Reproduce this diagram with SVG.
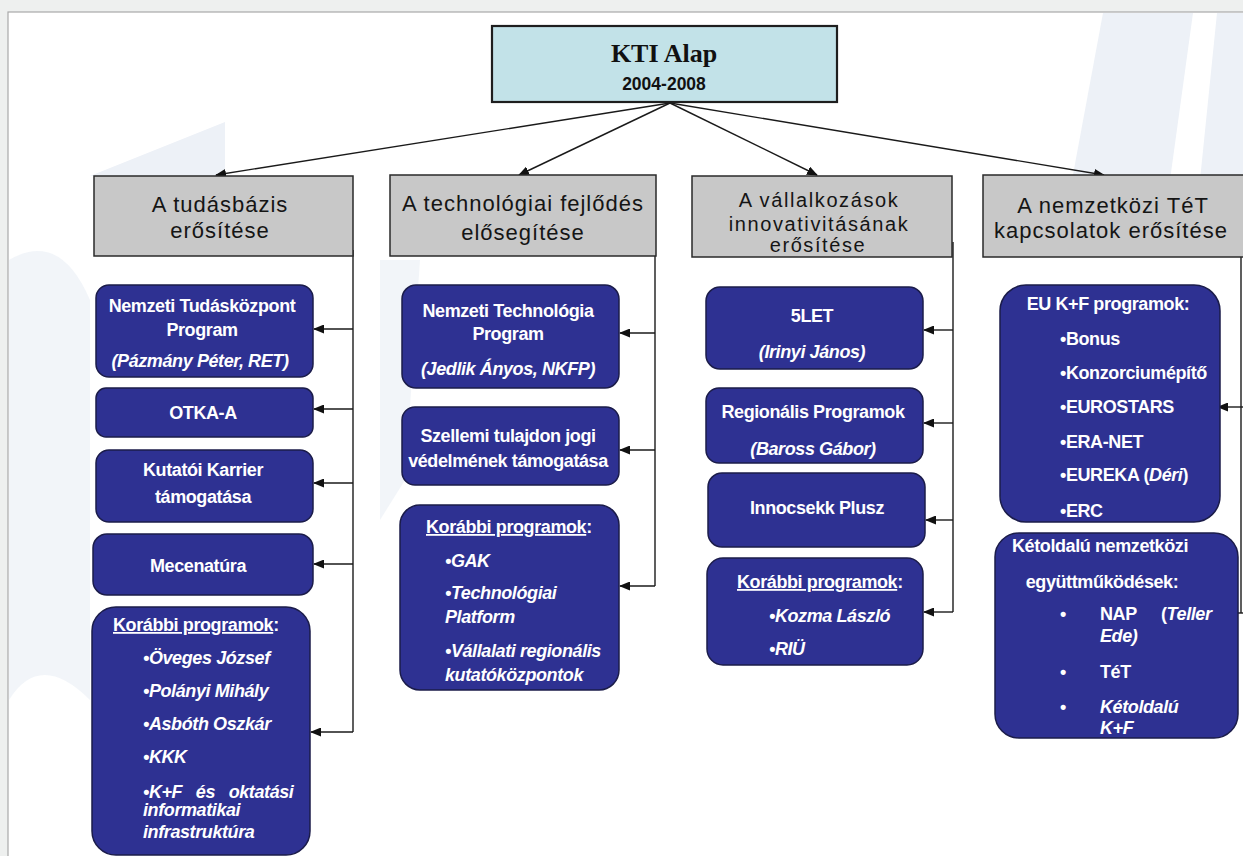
<svg xmlns="http://www.w3.org/2000/svg" width="1243" height="856" viewBox="0 0 1243 856">
<defs>
<marker id="ah" markerWidth="11" markerHeight="9" refX="10" refY="4.5" orient="auto" markerUnits="userSpaceOnUse">
<path d="M0,0 L11,4.5 L0,9 z" fill="#111"/>
</marker>
<style>
.hdr{fill:#c8c8c8;stroke:#2a2a2a;stroke-width:1.5}
.blue{fill:#2e3192;stroke:#1b1c4a;stroke-width:1.5}
.ht{font-family:'Liberation Sans',Arial,sans-serif;font-size:22px;letter-spacing:1px;fill:#151515;text-anchor:middle}
.bt{font-family:'Liberation Sans',Arial,sans-serif;font-size:18px;letter-spacing:-0.4px;font-weight:bold;fill:#fff}
.c{text-anchor:middle}
.i{font-style:italic}
.u{text-decoration:underline}
.ln{stroke:#1a1a1a;stroke-width:1.4;fill:none}
.ar{stroke:#1a1a1a;stroke-width:1.4;fill:none;marker-end:url(#ah)}
.bg{fill:#edf1f7}
</style>
</defs>
<rect x="0" y="0" width="1243" height="856" fill="#eef0ef"/>
<rect x="8" y="12" width="1240" height="850" fill="#ffffff" stroke="#a9a9a9" stroke-width="1.2"/>
<g id="background">
<path class="bg" d="M1103,13 L1193,13 L1170,180 L1072,180 Z"/>
<path class="bg" d="M1217,13 L1243,13 L1243,180 L1200,180 Z"/>
<path class="bg" d="M90,176 L225,122 L225,176 Z"/>
<path class="bg" d="M9,260 Q60,230 90,300 L90,700 Q40,650 9,700 Z" opacity="0.7"/>
<path class="bg" d="M380,260 L420,260 L405,480 L380,520 Z" opacity="0.7"/>
</g>
<g id="kti">
<rect x="492" y="26" width="345" height="76" fill="#c2e2e8" stroke="#1e1e1e" stroke-width="2.2"/>
<text x="664" y="62" text-anchor="middle" font-family="'Liberation Serif','Times New Roman',serif" font-size="26" font-weight="bold" fill="#111">KTI Alap</text>
<text x="664" y="90" text-anchor="middle" font-family="'Liberation Sans',Arial,sans-serif" font-size="17.5" font-weight="bold" fill="#111">2004-2008</text>
</g>
<g id="connectors">
<line class="ar" x1="670" y1="103" x2="216" y2="175" stroke-width="2"/>
<line class="ar" x1="670" y1="103" x2="519" y2="175"/>
<line class="ar" x1="670" y1="103" x2="817" y2="175"/>
<line class="ar" x1="670" y1="103" x2="1104" y2="175" stroke-width="2"/>
<line class="ln" x1="353" y1="250" x2="353" y2="732"/>
<line class="ar" x1="353" y1="329" x2="314" y2="329"/>
<line class="ar" x1="353" y1="409" x2="314" y2="409"/>
<line class="ar" x1="353" y1="483" x2="314" y2="483"/>
<line class="ar" x1="353" y1="564" x2="314" y2="564"/>
<line class="ar" x1="353" y1="732" x2="311" y2="732"/>
<line class="ln" x1="655" y1="240" x2="655" y2="586"/>
<line class="ar" x1="655" y1="333" x2="620" y2="333"/>
<line class="ar" x1="655" y1="450" x2="620" y2="450"/>
<line class="ar" x1="655" y1="586" x2="620" y2="586"/>
<line class="ln" x1="953" y1="242" x2="953" y2="612"/>
<line class="ar" x1="953" y1="330" x2="924" y2="330"/>
<line class="ar" x1="953" y1="423" x2="924" y2="423"/>
<line class="ar" x1="953" y1="520" x2="926" y2="520"/>
<line class="ar" x1="953" y1="612" x2="924" y2="612"/>
<line class="ln" x1="1241" y1="257" x2="1241" y2="613"/>
<line class="ar" x1="1243" y1="407" x2="1218" y2="407"/>
<line class="ar" x1="1243" y1="613" x2="1218" y2="613"/>
</g>
<g id="h1">
<rect class="hdr" x="94" y="176" width="259" height="80"/>
<text class="ht" x="220" y="212">A tudásbázis</text>
<text class="ht" x="220" y="238">erősítése</text>
</g>
<g id="h2">
<rect class="hdr" x="390" y="175" width="266" height="81"/>
<text class="ht" x="523" y="211">A technológiai fejlődés</text>
<text class="ht" x="523" y="240">elősegítése</text>
</g>
<g id="h3">
<rect class="hdr" x="692" y="176" width="260" height="81"/>
<text class="ht" x="819" y="207" style="font-size:20px;letter-spacing:1.6px">A vállalkozások</text>
<text class="ht" x="819" y="231" style="font-size:20px;letter-spacing:1.6px">innovativitásának</text>
<text class="ht" x="818" y="252" style="font-size:20px;letter-spacing:1.6px">erősítése</text>
</g>
<g id="h4">
<rect class="hdr" x="983" y="175" width="270" height="82"/>
<text class="ht" x="1113" y="213">A nemzetközi TéT</text>
<text class="ht" x="1111" y="238">kapcsolatok erősítése</text>
</g>
<g id="b1">
<rect class="blue" x="96" y="285" width="217" height="92" rx="13"/>
<text class="bt c" x="202" y="312">Nemzeti Tudásközpont</text>
<text class="bt c" x="202" y="336">Program</text>
<text class="bt c i" x="200" y="367">(Pázmány Péter, RET)</text>
</g>
<g id="b2">
<rect class="blue" x="96" y="388" width="217" height="49" rx="10"/>
<text class="bt c" x="203" y="419">OTKA-A</text>
</g>
<g id="b3">
<rect class="blue" x="96" y="450" width="217" height="72" rx="13"/>
<text class="bt c" x="203" y="476">Kutatói Karrier</text>
<text class="bt c" x="203" y="503">támogatása</text>
</g>
<g id="b4">
<rect class="blue" x="93" y="534" width="220" height="61" rx="14"/>
<text class="bt c" x="198" y="572">Mecenatúra</text>
</g>
<g id="b5">
<rect class="blue" x="92" y="607" width="218" height="248" rx="24"/>
<text class="bt" x="113" y="631"><tspan class="u">Korábbi programok</tspan>:</text>
<text class="bt i" x="143" y="664">•Öveges József</text>
<text class="bt i" x="143" y="697">•Polányi Mihály</text>
<text class="bt i" x="143" y="730">•Asbóth Oszkár</text>
<text class="bt i" x="143" y="763">•KKK</text>
<text class="bt i" x="143" y="798" word-spacing="9">•K+F és oktatási</text>
<text class="bt i" x="143" y="816">informatikai</text>
<text class="bt i" x="143" y="838">infrastruktúra</text>
</g>
<g id="c1">
<rect class="blue" x="402" y="285" width="217" height="103" rx="14"/>
<text class="bt c" x="508" y="317">Nemzeti Technológia</text>
<text class="bt c" x="508" y="340">Program</text>
<text class="bt c i" x="508" y="375">(Jedlik Ányos, NKFP)</text>
</g>
<g id="c2">
<rect class="blue" x="402" y="407" width="217" height="78" rx="13"/>
<text class="bt c" x="508" y="442">Szellemi tulajdon jogi</text>
<text class="bt c" x="508" y="467">védelmének támogatása</text>
</g>
<g id="c3">
<rect class="blue" x="400" y="505" width="219" height="185" rx="20"/>
<text class="bt" x="426" y="533"><tspan class="u">Korábbi programok</tspan>:</text>
<text class="bt i" x="445" y="567">•GAK</text>
<text class="bt i" x="445" y="599">•Technológiai</text>
<text class="bt i" x="445" y="623">Platform</text>
<text class="bt i" x="445" y="657">•Vállalati regionális</text>
<text class="bt i" x="445" y="681">kutatóközpontok</text>
</g>
<g id="d1">
<rect class="blue" x="706" y="287" width="217" height="82" rx="14"/>
<text class="bt c" x="812" y="322">5LET</text>
<text class="bt c i" x="812" y="358">(Irinyi János)</text>
</g>
<g id="d2">
<rect class="blue" x="706" y="388" width="217" height="75" rx="13"/>
<text class="bt c" x="813" y="418">Regionális Programok</text>
<text class="bt c i" x="813" y="455">(Baross Gábor)</text>
</g>
<g id="d3">
<rect class="blue" x="708" y="473" width="217" height="74" rx="14"/>
<text class="bt c" x="817" y="514">Innocsekk Plusz</text>
</g>
<g id="d4">
<rect class="blue" x="707" y="558" width="216" height="107" rx="16"/>
<text class="bt" x="737" y="588"><tspan class="u">Korábbi programok</tspan>:</text>
<text class="bt i" x="769" y="622">•Kozma László</text>
<text class="bt i" x="769" y="655">•RIÜ</text>
</g>
<g id="e1">
<rect class="blue" x="1000" y="285" width="220" height="237" rx="26"/>
<text class="bt c" x="1108" y="310">EU K+F programok:</text>
<text class="bt" x="1060" y="345">•Bonus</text>
<text class="bt" x="1060" y="379">•Konzorciumépítő</text>
<text class="bt" x="1060" y="413">•EUROSTARS</text>
<text class="bt" x="1060" y="448">•ERA-NET</text>
<text class="bt" x="1060" y="481">•EUREKA (<tspan class="i">Déri</tspan>)</text>
<text class="bt" x="1060" y="517">•ERC</text>
</g>
<g id="e2">
<rect class="blue" x="995" y="533" width="243" height="205" rx="24"/>
<text class="bt c" x="1100" y="552">Kétoldalú nemzetközi</text>
<text class="bt c" x="1102" y="588">együttműködések:</text>
<text class="bt" x="1060" y="620">•</text>
<text class="bt" x="1100" y="620">NAP</text>
<text class="bt" x="1161" y="620">(<tspan class="i">Teller</tspan></text>
<text class="bt i" x="1100" y="642">Ede)</text>
<text class="bt" x="1060" y="678">•</text>
<text class="bt" x="1100" y="678">TéT</text>
<text class="bt" x="1060" y="713">•</text>
<text class="bt i" x="1100" y="713">Kétoldalú</text>
<text class="bt i" x="1100" y="734">K+F</text>
</g>
</svg>
